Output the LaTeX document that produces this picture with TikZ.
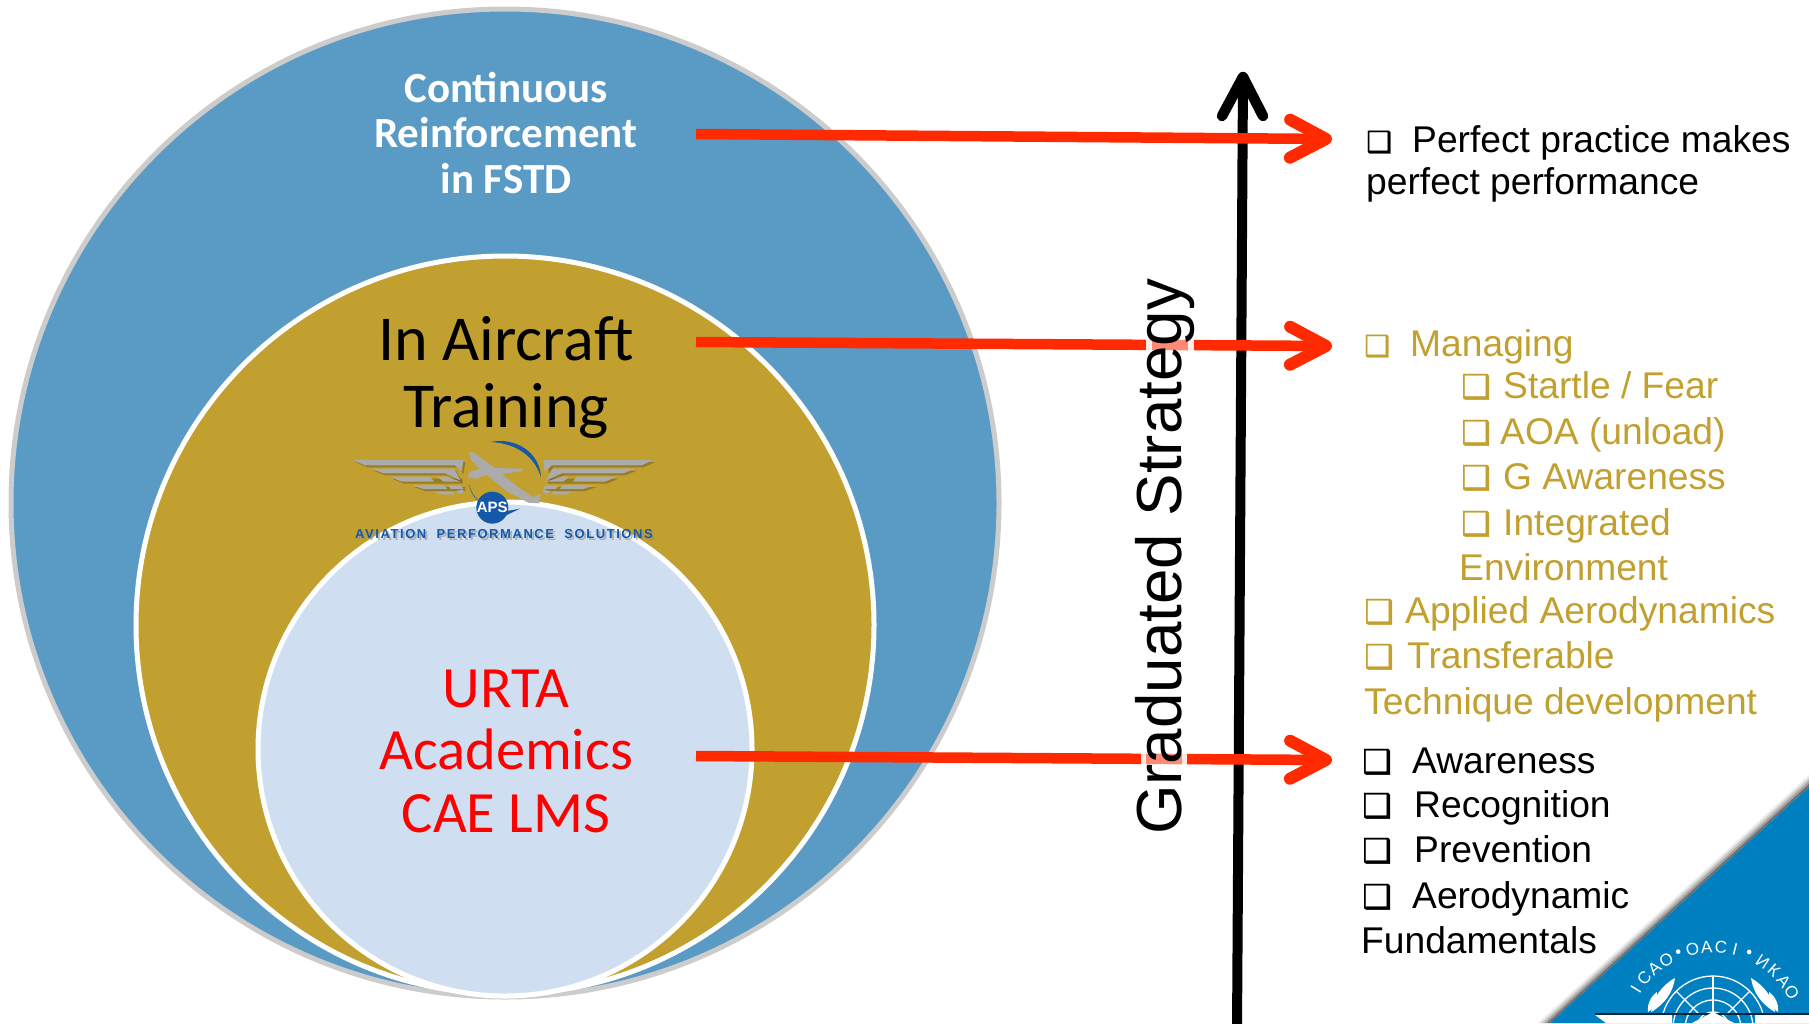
\documentclass[tikz,border=0pt]{standalone}
\usepackage{fontspec}
\setmainfont{Liberation Sans}
\newfontfamily\calfont{Carlito}
\newfontfamily\boxfont{DejaVu Sans}
\usetikzlibrary{arrows.meta}
\definecolor{skyc}{HTML}{5A9BC5}
\definecolor{goldc}{HTML}{C2A02F}
\definecolor{palec}{HTML}{CFDFF1}
\definecolor{redc}{HTML}{FF2A00}
\definecolor{icaoc}{HTML}{0080C0}
\definecolor{apsb}{HTML}{1558A8}
\definecolor{wingc}{HTML}{ABABAB}
\tikzset{
 ring/.style={circle,inner sep=0pt,minimum size=#1},
 calib/.style={align=center,inner sep=0pt,anchor=base},
 item/.style={anchor=base west,inner sep=0pt,font=\fontsize{37.2}{37.2}\selectfont},
 bx/.style={anchor=base west,inner sep=0pt,font=\boxfont\fontsize{33}{33}\selectfont\addfontfeature{FakeBold=1}},
 bxs/.style={anchor=base west,inner sep=0pt,font=\boxfont\fontsize{29}{29}\selectfont\addfontfeature{FakeBold=1}},
 redarrow/.style={draw=redc,line width=10.5pt,-{Straight Barb[length=36pt,width=38pt,round,line width=12pt]}},
}
\begin{document}
\begin{tikzpicture}[x=1pt,y=-1pt]
\useasboundingbox (0,0) rectangle (1809,1023);
% circles
\node[ring=988pt,fill=skyc,draw=black!20,line width=5pt] (outer) at (505,503) {};
\node[ring=738pt,fill=goldc,draw=white,line width=5pt] (mid) at (505,625) {};
\node[ring=494pt,fill=palec,draw=white,line width=5pt] (inner) at (505,749) {};
% circle labels
\node[calib,text=white,font=\calfont\bfseries\fontsize{43}{45.5}\selectfont] (lab1) at (506,193) {Continuous\\Reinforcement\\in FSTD};
\node[calib,text=black,font=\calfont\fontsize{64}{67}\selectfont] (lab2) at (506,427) {In Aircraft\\Training};
\node[calib,text=red,font=\calfont\fontsize{58.5}{62.5}\selectfont] (lab3) at (506,832) {URTA\\Academics\\CAE LMS};
% APS logo
\begin{scope}[shift={(330,420)},x=0.3333pt,y=-0.3333pt]
 \begin{scope}[shift={(6,6)},every path/.style={fill=black,opacity=.22}]
   \path (70,120)--(400,120)--(395,155)--(375,136)--(105,136)--cycle;
   \path (125,146)--(372,146)--(392,182)--(345,160)--(160,160)--cycle;
   \path (180,170)--(392,170)--(392,185)--(215,185)--cycle;
   \path (245,195)--(400,195)--(400,207)--(280,207)--cycle;
   \path (648,120)--(970,120)--(935,136)--(665,136)--(650,155)--cycle;
   \path (668,146)--(915,146)--(880,160)--(695,160)--(648,182)--cycle;
   \path (648,170)--(860,170)--(825,185)--(648,185)--cycle;
   \path (640,195)--(795,195)--(760,207)--(640,207)--cycle;
 \end{scope}
 \begin{scope}[every path/.style={fill=wingc}]
  \path (70,120)--(400,120)--(395,155)--(375,136)--(105,136)--cycle;
  \path (125,146)--(372,146)--(392,182)--(345,160)--(160,160)--cycle;
  \path (180,170)--(300,170)--(312,185)--(215,185)--cycle;
  \path (322,170)--(345,170)--(392,185)--(340,185)--cycle;
  \path (245,195)--(340,195)--(352,207)--(280,207)--cycle;
  \path (355,196)--(392,196)--(400,207)--(362,207)--cycle;
  \path (315,215)--(370,215)--(375,223)--(330,223)--cycle;
  \path (380,213)--(400,209)--(400,218)--(385,221)--cycle;
  \path (970,120)--(640,120)--(645,155)--(665,136)--(935,136)--cycle;
  \path (915,146)--(668,146)--(648,182)--(695,160)--(880,160)--cycle;
  \path (860,170)--(740,170)--(728,185)--(825,185)--cycle;
  \path (718,170)--(695,170)--(648,185)--(700,185)--cycle;
  \path (795,195)--(700,195)--(688,207)--(760,207)--cycle;
  \path (685,196)--(648,196)--(640,207)--(678,207)--cycle;
  \path (725,215)--(670,215)--(665,223)--(710,223)--cycle;
  \path (660,213)--(640,209)--(640,218)--(655,221)--cycle;
  \path (416,100) .. controls (425,92) and (435,98) .. (447,110)--(495,144)--(578,146)--(575,154)--(515,162)
   --(570,205)--(610,232)--(632,222)--(628,250)--(595,248)--(525,210)--(470,164)--(440,176)--(412,172)--(420,155)--(450,146)--(425,122)--cycle;
 \end{scope}
 \fill[apsb] (482,66) .. controls (560,50) and (630,100) .. (633,172) .. controls (615,110) and (560,70) .. cycle;
 \fill[apsb] (417,192) .. controls (422,215) and (435,235) .. (450,245) .. controls (432,235) and (420,215) .. cycle;
 \fill[apsb] (487,263) circle (48);
 \fill[apsb] (520,275) -- (570,266) -- (520,290) -- cycle;
 \node[inner sep=0pt,text=white,font=\bfseries\fontsize{15}{15}\selectfont] (apsname) at (487,262) {APS};
 \node[inner sep=0pt,text=black!45,opacity=.6,font=\bfseries\fontsize{13}{13}\selectfont\addfontfeature{LetterSpace=12}] (apsshadow) at (528,348) {AVIATION\ \ PERFORMANCE\ \ SOLUTIONS};
 \node[inner sep=0pt,text=apsb,font=\bfseries\fontsize{13}{13}\selectfont\addfontfeature{LetterSpace=12}] (apstext) at (522,342) {AVIATION\ \ PERFORMANCE\ \ SOLUTIONS};
\end{scope}
% axis
\coordinate (axisfoot) at (1237,1030);
\coordinate (axistop) at (1243,77);
\draw[line width=10pt] (axisfoot) -- (axistop);
\draw[line width=10.5pt,line cap=round,line join=round] (1222,116) -- (axistop) -- (1263,116);
% red arrows
\coordinate (r1a) at (696,134); \coordinate (r1b) at (1332,139);
\coordinate (r2a) at (696,342); \coordinate (r2b) at (1332,346);
\coordinate (r3a) at (696,756); \coordinate (r3b) at (1332,760);
\draw[redarrow] (r1a) -- (r1b);
\draw[redarrow] (r2a) -- (r2b);
\draw[redarrow] (r3a) -- (r3b);
% glow of the rotated label over the arrows
\fill[white,opacity=.45] (1141,753) rectangle (1187,767);
\fill[white,opacity=.8] (1141,753) rectangle (1146,767);
\fill[white,opacity=.8] (1182,753) rectangle (1187,767);
\fill[white,opacity=.45] (1146,339) rectangle (1194,353);
\fill[white,opacity=.85] (1146,339) rectangle (1152,353);
\fill[white,opacity=.85] (1188,339) rectangle (1194,353);
% rotated label
\node[rotate=90,anchor=base,inner sep=0pt,font=\fontsize{63.7}{63.7}\selectfont] (gs) at (1181,557) {Graduated Strategy};
% right lists
\begin{scope}[every node/.append style={text=black}]
 \node[bxs] (b1) at (1366,152) {❑};
 \node[item] (t1) at (1412,152) {Perfect practice makes};
 \node[item] (t1b) at (1366,194) {perfect performance};
 \node[bx] (b9) at (1362,773) {❑}; \node[item] (t9) at (1412,773) {Awareness};
 \node[bx] (b10) at (1362,817) {❑}; \node[item] (t10) at (1414,817) {Recognition};
 \node[bx] (b11) at (1362,862) {❑}; \node[item] (t11) at (1414,862) {Prevention};
 \node[bx] (b12) at (1362,908) {❑}; \node[item] (t12) at (1412,908) {Aerodynamic};
 \node[item] (t12b) at (1361,953) {Fundamentals};
\end{scope}
\begin{scope}[every node/.append style={text=goldc}]
 \node[bxs] (b2) at (1364,356) {❑};
 \node[item] (t2) at (1410,356) {Managing};
 \node[bx] (b3) at (1461,398) {❑}; \node[item] (t3) at (1503,398) {Startle / Fear};
 \node[bx] (b4) at (1461,444) {❑}; \node[item] (t4) at (1500,444) {AOA (unload)};
 \node[bx] (b5) at (1461,489) {❑}; \node[item] (t5) at (1503,489) {G Awareness};
 \node[bx] (b6) at (1461,535) {❑}; \node[item] (t6) at (1503,535) {Integrated};
 \node[item] (t6b) at (1459,580) {Environment};
 \node[bx] (b7) at (1364,623) {❑}; \node[item] (t7) at (1405,623) {Applied Aerodynamics};
 \node[bx] (b8) at (1364,668) {❑}; \node[item] (t8) at (1407,668) {Transferable};
 \node[item] (t8b) at (1364,714) {Technique development};
\end{scope}
% ICAO corner
\foreach \d/\o in {12/.08,9/.14,6/.2,3/.3}{
 \fill[black,opacity=\o] (1550-\d,1023) -- (1809,787-\d) -- (1809,787) -- (1550,1023) -- cycle;
}
\fill[icaoc] (1550,1023) -- (1809,787) -- (1809,1023) -- cycle;
\foreach \c/\a in {I/148,C/139,A/130,O/121,{•}/112,O/103,A/94,C/85,I/76,{•}/67,И/57,К/48,А/39,О/30}{
 \node[inner sep=0pt,text=white,rotate=\a-90,font=\fontsize{17}{17}\selectfont] at ({1713+91*cos(\a)},{1038-91*sin(\a)}) {\c};
}
\begin{scope}[white,line width=1.3pt]
 \foreach \r in {52,40,28,16}{\draw (1713-\r,1028) arc[start angle=180,end angle=0,x radius=\r pt,y radius=\r pt];}
 \draw (1713,976) -- (1713,1028);
 \draw (1676,991) -- (1700,1015) (1750,991) -- (1726,1015);
\end{scope}
\foreach \s in {1,-1}{
 \begin{scope}[shift={(1713,0)},xscale=\s]
  \fill[white] (-62,1012) .. controls (-60,998) and (-52,986) .. (-38,978) .. controls (-40,992) and (-48,1004) .. cycle;
  \fill[white] (-65,1012) .. controls (-66,1004) and (-62,996) .. (-56,992) .. controls (-56,1000) and (-58,1008) .. cycle;
 \end{scope}
}
\draw[black!70!icaoc,line width=1.5pt] (1595,1014) -- (1809,1014);
\fill[white] (1595,1015) -- (1672,1015) -- (1672,1023) -- (1606,1023) -- cycle;
\fill[white] (1755,1015) -- (1809,1015) -- (1809,1023) -- (1755,1023) -- cycle;
\fill[white] (1692,1023) -- (1713,1012) -- (1734,1023) -- cycle;
\end{tikzpicture}
\end{document}
